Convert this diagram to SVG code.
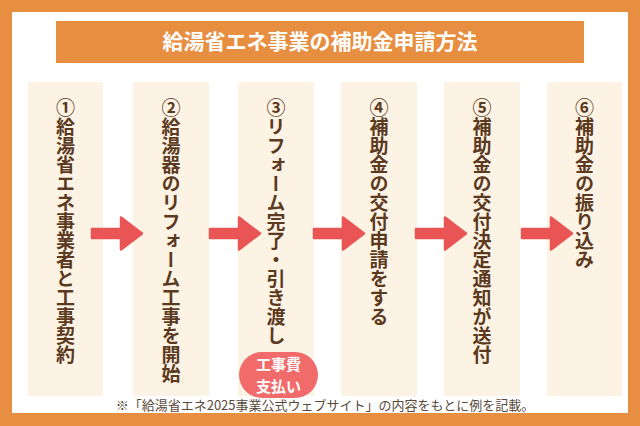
<svg xmlns="http://www.w3.org/2000/svg" width="640" height="426" viewBox="0 0 640 426">
<defs>
<style>
.col{fill:#FDF3E4}
.step{font-family:"Noto Sans CJK JP","Noto Sans",sans-serif;font-weight:700;font-size:19px;fill:#5B3A1F;writing-mode:vertical-rl}
.title{font-family:"Noto Sans CJK JP","Noto Sans",sans-serif;font-weight:700;font-size:21px;fill:#FFFFFF}
.badge{font-family:"Noto Sans CJK JP","Noto Sans",sans-serif;font-weight:700;font-size:15px;fill:#FFFFFF}
.note{font-family:"Noto Sans CJK JP","Noto Sans",sans-serif;font-size:13px;fill:#5A4A3C}
.arrow{fill:#E95555;stroke:#E95555;stroke-width:2.5;stroke-linejoin:round}
</style>
<path id="arr" d="M1,-4.5 H30 V-16 L51,0 L30,16 V4.5 H1 Z"/>
</defs>
<rect x="0" y="0" width="640" height="426" fill="#E88E40"/>
<rect x="12" y="12" width="616" height="401" fill="#FFFFFF"/>
<g id="title">
<rect x="56" y="21" width="528" height="42" fill="#E88E40"/>
<text class="title" x="320" y="49" text-anchor="middle">給湯省エネ事業の補助金申請方法</text>
</g>
<g id="step1">
<rect class="col" x="28" y="82" width="75" height="314"/>
<text class="step" x="65.5" y="98">①給湯省エネ事業者と工事契約</text>
</g>
<g id="step2">
<rect class="col" x="133" y="82" width="76" height="314"/>
<text class="step" x="171" y="98">②給湯器のリフォーム工事を開始</text>
</g>
<g id="step3">
<rect class="col" x="238" y="82" width="76" height="314"/>
<text class="step" x="276" y="98">③リフォーム完了・引き渡し</text>
</g>
<g id="badge">
<rect x="239" y="352" width="79" height="46" rx="23" fill="#F26B6B"/>
<text class="badge" x="278.5" y="369.5" text-anchor="middle">工事費</text>
<text class="badge" x="278.5" y="392" text-anchor="middle">支払い</text>
</g>
<g id="step4">
<rect class="col" x="341" y="82" width="76" height="314"/>
<text class="step" x="379" y="98">④補助金の交付申請をする</text>
</g>
<g id="step5">
<rect class="col" x="444" y="82" width="76" height="314"/>
<text class="step" x="482" y="98">⑤補助金の交付決定通知が送付</text>
</g>
<g id="step6">
<rect class="col" x="547" y="82" width="75" height="314"/>
<text class="step" x="584.5" y="98">⑥補助金の振り込み</text>
</g>
<g id="connectors">
<use href="#arr" class="arrow" transform="translate(91,233.5)"/>
<use href="#arr" class="arrow" transform="translate(209,233.5)"/>
<use href="#arr" class="arrow" transform="translate(313,233.5)"/>
<use href="#arr" class="arrow" transform="translate(415,233.5)"/>
<use href="#arr" class="arrow" transform="translate(521,233.5)"/>
</g>
<text class="note" x="325" y="410" text-anchor="middle">※「給湯省エネ2025事業公式ウェブサイト」の内容をもとに例を記載。</text>
</svg>
